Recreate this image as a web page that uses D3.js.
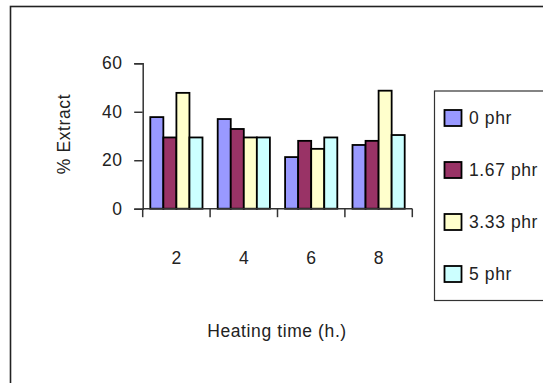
<!DOCTYPE html>
<html><head><meta charset="utf-8">
<script src="https://cdn.jsdelivr.net/npm/d3@7"></script>
<style>
html,body{margin:0;padding:0;background:#fff;overflow:hidden}
text{font-family:"Liberation Sans",Arial,sans-serif;fill:#222;letter-spacing:0.6px}
</style></head>
<body><svg id="c" width="543" height="383"></svg>
<script>
const categories = ["2","4","6","8"];
const seriesNames = ["0 phr","1.67 phr","3.33 phr","5 phr"];
const s0 = [37.8, 37.0, 21.3, 26.3];
const s1 = [29.4, 32.9, 28.0, 28.0];
const s2 = [47.8, 29.4, 24.7, 48.7];
const s3 = [29.4, 29.4, 29.4, 30.4];
const yTicks = [0, 20, 40, 60];
const colors = ["#9999FF","#993366","#FFFFCC","#CCFFFF"];
const series = [s0, s1, s2, s3];
const FS = "17.5px";

const svg = d3.select("#c");
// outer frame
svg.append("rect").attr("x",10.5).attr("y",6.5).attr("width",560).attr("height",400)
  .attr("fill","none").attr("stroke","#222").attr("stroke-width",1.6);

const pL = 142.7, pR = 412.3, pT = 63.3, pB = 208.7;
const y = d3.scaleLinear().domain([0,60]).range([pB, pT]);
const x0 = d3.scaleBand().domain(categories).range([pL, pR]).padding(0);
const x1 = d3.scaleBand().domain(d3.range(series.length)).range([7.6, x0.bandwidth()-7.6]).padding(0);

const g = svg.append("g");
categories.forEach((c, i) => {
  series.forEach((s, j) => {
    g.append("rect")
      .attr("x", x0(c) + x1(j))
      .attr("y", y(s[i]))
      .attr("width", x1.bandwidth())
      .attr("height", y(0) - y(s[i]))
      .attr("fill", colors[j])
      .attr("stroke", "#000").attr("stroke-width", 1.8);
  });
});

// y axis
const ya = svg.append("g").attr("transform", `translate(${pL},0)`)
  .call(d3.axisLeft(y).tickValues(yTicks).tickSize(8.5).tickPadding(11.5).tickFormat(d3.format("d")));
ya.select(".domain").attr("stroke","#333").attr("stroke-width",1.5);
ya.selectAll(".tick line").attr("stroke","#333").attr("stroke-width",1.5);
ya.selectAll("text").style("font-size",FS).attr("fill","#222");

// x axis
const xa = svg.append("g").attr("transform", `translate(0,${pB})`);
xa.append("line").attr("x1", pL).attr("x2", pR).attr("stroke","#333").attr("stroke-width",1.5);
const edges = categories.map(c => x0(c)).concat([x0(categories[categories.length-1]) + x0.bandwidth()]);
xa.selectAll(".tk").data(edges).enter().append("line")
  .attr("x1", d => d).attr("x2", d => d).attr("y1", 0).attr("y2", 8.5)
  .attr("stroke","#333").attr("stroke-width",1.5);
xa.selectAll(".lb").data(categories).enter().append("text")
  .attr("x", d => x0(d) + x0.bandwidth()/2 + 0.3).attr("y", 55.3)
  .attr("text-anchor","middle").style("font-size",FS).text(d => d);

// axis titles
svg.append("text").attr("transform","translate(70,134) rotate(-90)")
  .attr("text-anchor","middle").style("font-size",FS).text("% Extract");
svg.append("text").attr("x",277).attr("y",337)
  .attr("text-anchor","middle").style("font-size",FS).text("Heating time (h.)");

// legend
svg.append("rect").attr("x",434.5).attr("y",91).attr("width",130).attr("height",209.5)
  .attr("fill","#fff").attr("stroke","#333").attr("stroke-width",1.2);
seriesNames.forEach((n, j) => {
  const cy = 118 + j*52;
  svg.append("rect").attr("x",444.5).attr("y",cy-8).attr("width",17).attr("height",16)
    .attr("fill",colors[j]).attr("stroke","#000").attr("stroke-width",1.8);
  svg.append("text").attr("x",469).attr("y",cy+6.3).style("font-size",FS).text(n);
});
</script></body></html>
